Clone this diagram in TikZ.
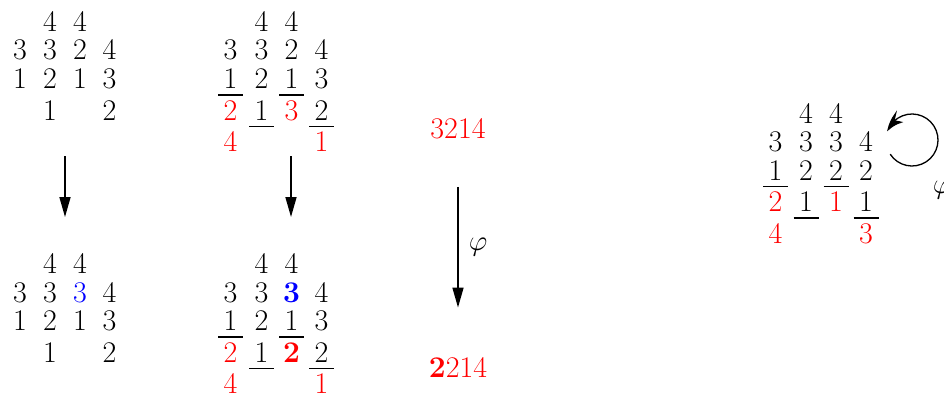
\documentclass[tikz,border=0pt]{standalone}
\usetikzlibrary{arrows.meta,bending}
\newcommand\dfont{\fontsize{15pt}{18pt}\selectfont}
\newcommand\dg[5]{\node[dig,#1] (#2) at (#3,-#4) {#5};}
\newcommand\undl[1]{\draw[ulin] ([xshift=-6.25pt,yshift=-3.25pt]#1.base) -- ([xshift=6.25pt,yshift=-3.25pt]#1.base);}
\begin{document}
\begin{tikzpicture}[x=0.5pt,y=0.5pt,
  dig/.style={anchor=base,inner sep=0pt,font=\dfont},
  rd/.style={text=red},
  bl/.style={text=blue},
  ulin/.style={line width=0.65pt},
  arr/.style={line width=0.8pt,-{Triangle[length=10pt,width=5.5pt]}},
  loopst/.style={line width=0.65pt,-{Stealth[length=10pt,width=6.5pt,bend]}}]
\useasboundingbox (0,0) rectangle (944,-396);

% ---------- array A (top left)
\dg{}{a12}{50}{31.5}{4}  \dg{}{a13}{80}{31.5}{4}
\dg{}{a21}{20}{60}{3}    \dg{}{a22}{50}{60}{3}   \dg{}{a23}{80}{60}{2}   \dg{}{a24}{109.5}{60}{4}
\dg{}{a31}{20}{88.5}{1}  \dg{}{a32}{50}{88.5}{2} \dg{}{a33}{80}{88.5}{1} \dg{}{a34}{109.5}{88.5}{3}
\dg{}{a42}{50}{120}{1}   \dg{}{a44}{109.5}{120}{2}

% ---------- array B (top middle)
\dg{}{b12}{261.5}{31.5}{4}  \dg{}{b13}{291.5}{31.5}{4}
\dg{}{b21}{230.5}{60}{3}    \dg{}{b22}{261.5}{60}{3}   \dg{}{b23}{291.5}{60}{2}   \dg{}{b24}{321.5}{60}{4}
\dg{}{b31}{230.5}{88.5}{1}  \dg{}{b32}{261.5}{88.5}{2} \dg{}{b33}{291.5}{88.5}{1} \dg{}{b34}{321.5}{88.5}{3}
\dg{rd}{b41}{230.5}{120}{2} \dg{}{b42}{261.5}{120}{1}  \dg{rd}{b43}{291.5}{120}{3} \dg{}{b44}{321.5}{120}{2}
\dg{rd}{b51}{230.5}{151.5}{4} \dg{rd}{b54}{321.5}{151.5}{1}
\undl{b31} \undl{b33} \undl{b42} \undl{b44}

% ---------- array C (bottom left)
\dg{}{c12}{50}{273.5}{4}  \dg{}{c13}{80}{273.5}{4}
\dg{}{c21}{20}{302}{3}    \dg{}{c22}{50}{302}{3}   \dg{bl}{c23}{80}{302}{3} \dg{}{c24}{109.5}{302}{4}
\dg{}{c31}{20}{330.5}{1}  \dg{}{c32}{50}{330.5}{2} \dg{}{c33}{80}{330.5}{1} \dg{}{c34}{109.5}{330.5}{3}
\dg{}{c42}{50}{362}{1}    \dg{}{c44}{109.5}{362}{2}

% ---------- array D (bottom middle)
\dg{}{d12}{261.5}{273.5}{4}  \dg{}{d13}{291.5}{273.5}{4}
\dg{}{d21}{230.5}{302}{3}    \dg{}{d22}{261.5}{302}{3}   \dg{bl}{d23}{291.5}{302}{\textbf{3}} \dg{}{d24}{321.5}{302}{4}
\dg{}{d31}{230.5}{330.5}{1}  \dg{}{d32}{261.5}{330.5}{2} \dg{}{d33}{291.5}{330.5}{1} \dg{}{d34}{321.5}{330.5}{3}
\dg{rd}{d41}{230.5}{362}{2}  \dg{}{d42}{261.5}{362}{1}   \dg{rd}{d43}{291.5}{362}{\textbf{2}} \dg{}{d44}{321.5}{362}{2}
\dg{rd}{d51}{230.5}{393.5}{4} \dg{rd}{d54}{321.5}{393.5}{1}
\undl{d31} \undl{d33} \undl{d42} \undl{d44}

% ---------- words and phi arrow
\dg{rd}{w1}{458}{138}{3214}
\dg{rd}{w2}{458}{377}{\textbf{2}214}
\draw[arr,shorten <=24pt,shorten >=24.5pt] (w1.south) -- (w2.north);
\node[font=\dfont,inner sep=0pt] (phi1) at (478,-247) {$\varphi$};

% ---------- vertical arrows between arrays
\coordinate (s1) at (65,-156);  \coordinate (t1) at (65,-217);
\coordinate (s2) at (291,-156); \coordinate (t2) at (291,-217);
\draw[arr] (s1) -- (t1);
\draw[arr] (s2) -- (t2);

% ---------- array E (right, fixed point)
\dg{}{e12}{806}{123}{4}  \dg{}{e13}{836}{123}{4}
\dg{}{e21}{775.5}{151.5}{3}  \dg{}{e22}{806}{151.5}{3} \dg{}{e23}{836}{151.5}{3} \dg{}{e24}{866}{151.5}{4}
\dg{}{e31}{775.5}{180}{1}    \dg{}{e32}{806}{180}{2}   \dg{}{e33}{836}{180}{2}   \dg{}{e34}{866}{180}{2}
\dg{rd}{e41}{775.5}{211.5}{2} \dg{}{e42}{806}{211.5}{1} \dg{rd}{e43}{836}{211.5}{1} \dg{}{e44}{866}{211.5}{1}
\dg{rd}{e51}{775.5}{243}{4}  \dg{rd}{e54}{866}{243}{3}
\undl{e31} \undl{e33} \undl{e42} \undl{e44}

\coordinate (lc) at (912,-140);
\draw[loopst] ([shift={(213:13pt)}]lc) arc[start angle=213,end angle=521,radius=13pt];
\node[font=\dfont,inner sep=0pt] (phi2) at (942,-190) {$\varphi$};
\end{tikzpicture}
\end{document}
